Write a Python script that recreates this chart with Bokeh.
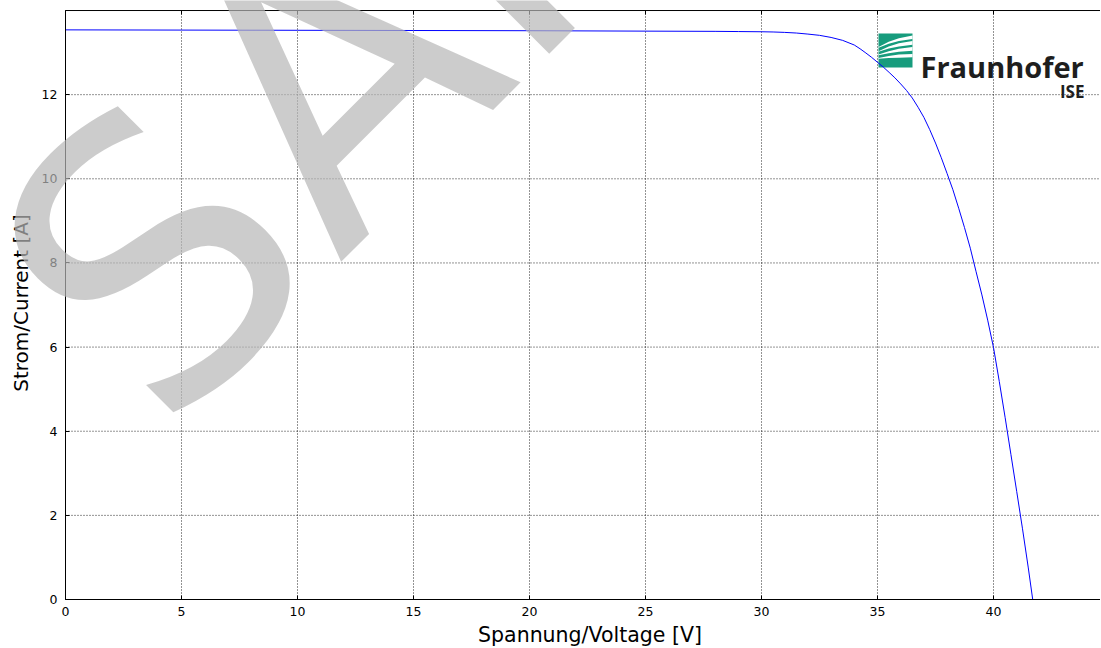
from bokeh.plotting import figure
from bokeh.models import Range1d, FixedTicker, Label
from bokeh.embed import file_html
from bokeh.resources import INLINE
from bokeh.core.properties import value

# ---- data ----
voltage = [0, 5, 10, 15, 20, 25, 28, 29, 30, 30.5, 31, 31.5, 32, 32.5, 33, 33.5, 34,
           34.25, 34.5, 34.75, 35, 35.25, 35.5, 35.75, 36, 36.25, 36.5, 36.75, 37,
           37.25, 37.5, 37.75, 38, 38.25, 38.5, 38.75, 39, 39.25, 39.5, 39.75, 40,
           40.25, 40.5, 40.75, 41, 41.25, 41.5, 41.69]
current = [13.54, 13.535, 13.53, 13.525, 13.52, 13.51, 13.505, 13.50, 13.495,
           13.49, 13.48, 13.465, 13.44, 13.41, 13.36, 13.29, 13.18,
           13.09, 12.99, 12.885, 12.77, 12.655, 12.53, 12.40, 12.255, 12.10, 11.92,
           11.70, 11.46, 11.17, 10.85, 10.50, 10.125, 9.74, 9.30, 8.84, 8.35, 7.79,
           7.24, 6.64, 5.99, 5.18, 4.33, 3.45, 2.57, 1.68, 0.75, 0.0]
x_ticks = [0, 5, 10, 15, 20, 25, 30, 35, 40]
y_ticks = [0, 2, 4, 6, 8, 10, 12]
y_top = 14.0
x_label = "Spannung/Voltage [V]"
y_label = "Strom/Current [A]"
watermark = "SAMPLE"
logo_name = "Fraunhofer"
logo_sub = "ISE"

# ---- layout (pixels) ----
W, H = 1100, 646
X0_PX, Y0_PX = 65, 599          # where the data origin sits on the canvas
PX_X, PX_Y = 23.2, 42.07        # pixels per data unit


def dx(px):
    return (px - X0_PX) / PX_X


def dy(py):
    return (Y0_PX - py) / PX_Y


x_right = dx(W)

p = figure(width=W, height=H, output_backend="svg", toolbar_location=None,
           x_range=Range1d(dx(0), dx(W)), y_range=Range1d(dy(H), dy(0)),
           min_border_left=0, min_border_right=0, min_border_top=0,
           min_border_bottom=0)
p.outline_line_color = None
p.background_fill_color = "white"
p.border_fill_color = "white"
p.grid.visible = False

for ax, ticks, bnds in ((p.xaxis, x_ticks, (0, x_right)), (p.yaxis, y_ticks, (0, y_top))):
    ax.fixed_location = 0
    ax.bounds = bnds
    ax.ticker = FixedTicker(ticks=ticks)
    ax.major_tick_in = 4
    ax.major_tick_out = 0
    ax.minor_tick_in = 0
    ax.minor_tick_out = 0
    ax.axis_line_color = "black"
    ax.major_tick_line_color = "black"
    ax.major_label_text_font = "DejaVu Sans"
    ax.major_label_text_font_size = "12.5px"
    ax.major_label_text_color = "black"
p.xaxis.major_label_standoff = 7
p.yaxis.major_label_standoff = 8

# ---- grid (dotted) ----
grid_style = dict(line_color="black", line_alpha=0.85, line_dash="1 2", line_width=1)
p.segment(x0=x_ticks, y0=[0] * len(x_ticks), x1=x_ticks, y1=[y_top] * len(x_ticks),
          **grid_style)
p.segment(x0=[0] * len(y_ticks), y0=y_ticks, x1=[x_right] * len(y_ticks), y1=y_ticks,
          **grid_style)

# ---- top border with inward ticks ----
p.segment(x0=[0], y0=[y_top], x1=[x_right], y1=[y_top], line_color="black", line_width=1)
tick_len = 4 / PX_Y
p.segment(x0=x_ticks, y0=[y_top] * len(x_ticks), x1=x_ticks,
          y1=[y_top - tick_len] * len(x_ticks), line_color="black", line_width=1)

# ---- Fraunhofer logo (decoration) ----
sq_l, sq_r, sq_t, sq_b = 878, 912, 33, 67
p.quad(left=[dx(sq_l)], right=[dx(sq_r)], top=[dy(sq_t)], bottom=[dy(sq_b)],
       fill_color="#179c7d", line_color=None)
bands = [
    ([0.0, 0.3, 0.6, 1.0, 1.0, 0.6, 0.3, 0.0], [0.60, 0.76, 0.86, 0.94, 0.84, 0.78, 0.70, 0.58]),
    ([0.0, 0.3, 0.6, 1.0, 1.0, 0.6, 0.3, 0.0], [0.48, 0.62, 0.71, 0.78, 0.67, 0.62, 0.56, 0.46]),
    ([0.0, 0.3, 0.6, 1.0, 1.0, 0.6, 0.3, 0.0], [0.38, 0.48, 0.55, 0.60, 0.49, 0.46, 0.42, 0.36]),
    ([0.0, 0.3, 0.6, 1.0, 1.0, 0.6, 0.3, 0.0], [0.28, 0.34, 0.38, 0.40, 0.30, 0.29, 0.28, 0.26]),
]
xs, ys = [], []
for bu, bv in bands:
    xs.append([dx(sq_l + u * (sq_r - sq_l)) for u in bu])
    ys.append([dy(sq_b - v * (sq_b - sq_t)) for v in bv])
p.patches(xs, ys, fill_color="white", line_color=None)
p.text(x=[dx(920)], y=[dy(66)], text=[logo_name], text_font=value("Open Sans"),
       text_font_style="bold", text_font_size="29px", text_color="#1e1e1e",
       text_align="left", text_baseline="alphabetic")
p.text(x=[dx(1084)], y=[dy(91)], text=[logo_sub], text_font=value("Open Sans"),
       text_font_style="bold", text_font_size="17px", text_color="#1e1e1e",
       text_align="right", text_baseline="alphabetic")

# ---- the I-V curve ----
p.line(voltage, current, line_color="#0000ff", line_width=1)

# ---- axis labels ----
p.add_layout(Label(x=dx(589.5), y=dy(634), text=x_label, text_align="center",
                   text_baseline="alphabetic", text_font="DejaVu Sans",
                   text_font_size="20.5px", text_color="black"))
p.add_layout(Label(x=dx(20), y=dy(302.5), text=y_label, angle=90, angle_units="deg",
                   text_align="center", text_baseline="middle", text_font="DejaVu Sans",
                   text_font_size="20px", text_color="black"))

# ---- watermark ----
p.add_layout(Label(x=dx(70), y=dy(346), text=watermark, angle=45, angle_units="deg",
                   text_align="left", text_baseline="alphabetic",
                   text_font="DejaVu Sans", text_font_size="380px",
                   text_color="#b7b7b7", text_alpha=0.7))

open("out.html", "w").write(file_html(p, INLINE))
